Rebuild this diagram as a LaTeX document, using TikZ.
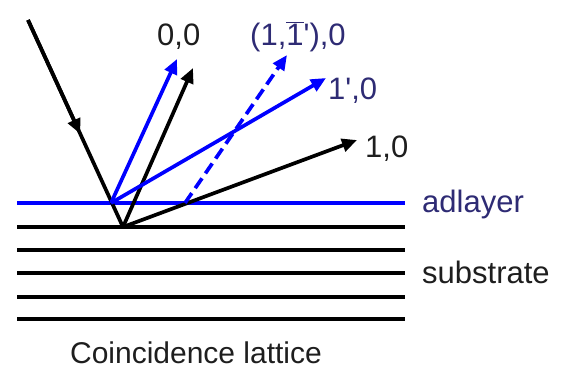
\documentclass[tikz,border=0pt]{standalone}
\usepackage{fontspec}
\setmainfont{Liberation Sans}[Ligatures=TeXOff]
\usetikzlibrary{calc,arrows.meta}
\definecolor{RayBlue}{HTML}{0000FF}
\definecolor{LabelNavy}{HTML}{2E2B74}
\definecolor{LabelGray}{HTML}{1E1E1E}

\begin{document}
\begin{tikzpicture}[x=1pt,y=-1pt,line join=miter,
  ray/.style={line width=3.7pt,-{Triangle[length=15pt,width=13pt]}},
  plane/.style={line width=3.4pt},
  lbl/.style={inner sep=0pt,anchor=base west,font=\fontsize{31}{36}\selectfont}]
  \useasboundingbox (0,0) rectangle (573,368);

  % lattice planes
  \coordinate (adL) at (17,203);
  \coordinate (adR) at (405,203);
  \draw[plane,RayBlue] (adL) -- (adR);
  \foreach \y in {227,250,273,297,319}
    \draw[plane] (17,\y) -- (405,\y);

  % scattering points and arrow tips
  \coordinate (src) at (28,20);
  \coordinate (O) at (123,227);
  \coordinate (Ob) at (111,203);
  \coordinate (Od) at (185,203);
  \coordinate (t00b) at (177,59);
  \coordinate (t00) at (193,68);
  \coordinate (t10b) at (326,78);
  \coordinate (t10) at (357,140);
  \coordinate (t11b) at (287,55);

  % incident beam
  \draw[line width=3.7pt] (src) -- (O);
  \draw[ray] (src) -- ($(src)!0.55!(O)$);

  % diffracted beams
  \draw[ray] (O) -- (t00);
  \draw[ray] (O) -- (t10);
  \draw[ray,RayBlue] (Ob) -- (t00b);
  \draw[ray,RayBlue] (Ob) -- (t10b);
  \draw[ray,RayBlue,dash pattern=on 12pt off 6pt] (Od) -- (t11b);

  % labels
  \node[lbl,LabelGray] (l00) at (157,45) {0,0};
  \node[lbl,LabelNavy] (l11) at (250,45) {(1,\mbox{$\overline{\mbox{1}}$}'),0};
  \node[lbl,LabelNavy] (l10b) at (328,99) {1',0};
  \node[lbl,LabelGray] (l10) at (365,157) {1,0};
  \node[lbl,LabelNavy] (ad) at (422,212) {adlayer};
  \node[lbl,LabelGray] (sub) at (422,283) {substrate};
  \node[lbl,LabelGray,anchor=base,font=\fontsize{30}{36}\selectfont] (cap) at (196,363) {Coincidence lattice};
\end{tikzpicture}
\end{document}
